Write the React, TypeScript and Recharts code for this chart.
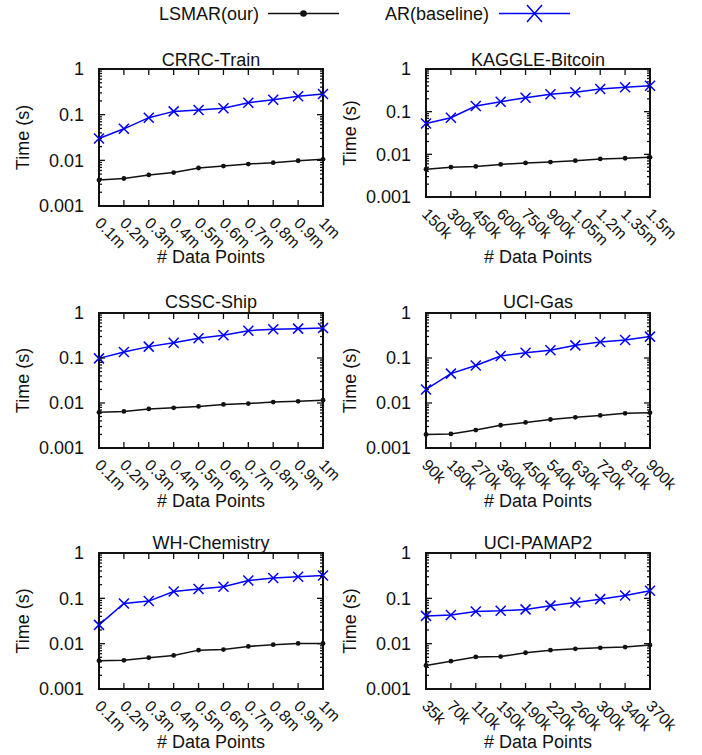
import React from "react";
import { LineChart, Line, XAxis, YAxis, Legend, ReferenceArea } from "recharts";

const FONT = '"Liberation Sans", Arial, Helvetica, sans-serif';
const BLUE = "#0000ff";
const INK = "#111";

// x tick labels
const millionLabels = ["0.1m", "0.2m", "0.3m", "0.4m", "0.5m", "0.6m", "0.7m", "0.8m", "0.9m", "1m"];
const bitcoinLabels = ["150k", "300k", "450k", "600k", "750k", "900k", "1.05m", "1.2m", "1.35m", "1.5m"];
const gasLabels = ["90k", "180k", "270k", "360k", "450k", "540k", "630k", "720k", "810k", "900k"];
const pamapLabels = ["35k", "70k", "110k", "150k", "190k", "220k", "260k", "300k", "340k", "370k"];

// time (s) per series
const crrcLsmar = [0.0037, 0.004, 0.0048, 0.0054, 0.0068, 0.0075, 0.0083, 0.0089, 0.0098, 0.0105];
const crrcAr = [0.03, 0.049, 0.086, 0.118, 0.126, 0.138, 0.183, 0.213, 0.252, 0.284];
const bitcoinLsmar = [0.0045, 0.005, 0.0052, 0.0058, 0.0063, 0.0066, 0.0071, 0.0078, 0.0081, 0.0085];
const bitcoinAr = [0.053, 0.072, 0.136, 0.171, 0.213, 0.255, 0.284, 0.34, 0.372, 0.407];
const shipLsmar = [0.0062, 0.0065, 0.0074, 0.0078, 0.0084, 0.0093, 0.0097, 0.0105, 0.0109, 0.0115];
const shipAr = [0.098, 0.136, 0.179, 0.219, 0.274, 0.319, 0.405, 0.434, 0.449, 0.464];
const gasLsmar = [0.002, 0.00205, 0.0025, 0.0032, 0.0037, 0.0043, 0.0048, 0.0053, 0.0059, 0.0061];
const gasAr = [0.02, 0.045, 0.068, 0.111, 0.131, 0.148, 0.191, 0.227, 0.251, 0.299];
const chemLsmar = [0.0042, 0.0043, 0.0049, 0.0055, 0.0072, 0.0074, 0.0087, 0.0095, 0.0101, 0.0101];
const chemAr = [0.026, 0.077, 0.087, 0.142, 0.16, 0.18, 0.248, 0.281, 0.3, 0.32];
const pamapLsmar = [0.0033, 0.0041, 0.0051, 0.0052, 0.0063, 0.0072, 0.0077, 0.0081, 0.0084, 0.0093];
const pamapAr = [0.041, 0.043, 0.051, 0.053, 0.057, 0.069, 0.081, 0.096, 0.116, 0.147];

// log axis ticks
const yMajorTicks = [0.001, 0.01, 0.1, 1];
const yMinorSteps = [2, 3, 4, 5, 6, 7, 8, 9];
const yTicks: number[] = [];
yMajorTicks.forEach((t, i) => {
  yTicks.push(t);
  if (i < yMajorTicks.length - 1) yMinorSteps.forEach((m) => yTicks.push(Number((t * m).toPrecision(6))));
});
const isMajor = (v: number) => yMajorTicks.includes(v);

const Y_AXIS_W = 95;
const PLOT_W = 224;
const M_TOP = 22;
const M_RIGHT = 30;
const X_AXIS_H = 72;

type Panel = {
  title: string;
  labels: string[];
  lsmar: number[];
  ar: number[];
  left: number;
  top: number;
  h: number;
  titleDy: number;
  xLabelDy: number;
};

const panels: Panel[] = [
  { title: "CRRC-Train", labels: millionLabels, lsmar: crrcLsmar, ar: crrcAr, left: 99, top: 69, h: 137, titleDy: -3, xLabelDy: 57 },
  { title: "KAGGLE-Bitcoin", labels: bitcoinLabels, lsmar: bitcoinLsmar, ar: bitcoinAr, left: 426, top: 69, h: 128, titleDy: -3, xLabelDy: 65.5 },
  { title: "CSSC-Ship", labels: millionLabels, lsmar: shipLsmar, ar: shipAr, left: 99, top: 313, h: 135, titleDy: -5, xLabelDy: 58.5 },
  { title: "UCI-Gas", labels: gasLabels, lsmar: gasLsmar, ar: gasAr, left: 426, top: 313, h: 135, titleDy: -5, xLabelDy: 58.5 },
  { title: "WH-Chemistry", labels: millionLabels, lsmar: chemLsmar, ar: chemAr, left: 99, top: 553, h: 136, titleDy: -4, xLabelDy: 59 },
  { title: "UCI-PAMAP2", labels: pamapLabels, lsmar: pamapLsmar, ar: pamapAr, left: 426, top: 553, h: 136, titleDy: -4, xLabelDy: 59 },
];

// left ticks, mirrored on the right border (gnuplot style)
const LeftTick = (props: any) => {
  const { x, y, payload, col } = props;
  const major = isMajor(payload.value);
  const len = major ? 6 : 3;
  return (
    <g>
      <line x1={x} x2={x + len} y1={y} y2={y} stroke={col} strokeWidth={1.3} />
      <line x1={x + PLOT_W} x2={x + PLOT_W - len} y1={y} y2={y} stroke={col} strokeWidth={1.3} />
      {major && (
        <text x={x - 15} y={y} dy="0.36em" textAnchor="end" fontSize={18} fontFamily={FONT} fill={col}>
          {String(payload.value)}
        </text>
      )}
    </g>
  );
};

// bottom ticks, mirrored on the top border
const BottomTick = (props: any) => {
  const { x, y, payload, plotH, col } = props;
  const tx = x - 5;
  const ty = y + 18;
  return (
    <g>
      <line x1={x} x2={x} y1={y} y2={y - 6} stroke={col} strokeWidth={1.3} />
      <line x1={x} x2={x} y1={y - plotH} y2={y - plotH + 6} stroke={col} strokeWidth={1.3} />
      <text x={tx} y={ty} transform={`rotate(45, ${tx}, ${ty})`} fontSize={16} fontFamily={FONT} fill={col}>
        {payload.value}
      </text>
    </g>
  );
};

const renderDot = (p: any) => <circle key={`d${p.index}`} cx={p.cx} cy={p.cy} r={2.4} fill={INK} />;

const renderCross = (p: any) => (
  <path
    key={`x${p.index}`}
    d={`M${p.cx - 5},${p.cy - 5}L${p.cx + 5},${p.cy + 5}M${p.cx - 5},${p.cy + 5}L${p.cx + 5},${p.cy - 5}`}
    stroke={BLUE}
    strokeWidth={1.5}
    fill="none"
  />
);

const renderLegend = () => (
  <svg width={702} height={32} style={{ display: "block" }}>
    <text x={159} y={19.5} fontSize={18} fontFamily={FONT} fill={INK}>LSMAR(our)</text>
    <line x1={268} x2={339} y1={13.5} y2={13.5} stroke={INK} strokeWidth={1.5} />
    <circle cx={303.5} cy={13.5} r={3.3} fill={INK} />
    <text x={385} y={19.5} fontSize={18} fontFamily={FONT} fill={INK}>AR(baseline)</text>
    <line x1={499} x2={570} y1={13.5} y2={13.5} stroke={BLUE} strokeWidth={1.5} />
    <path d="M527,5 L542,22 M527,22 L542,5" stroke={BLUE} strokeWidth={1.5} fill="none" />
  </svg>
);

const axisLine = { stroke: INK, strokeWidth: 2 };

const PanelChart = ({ p, idx }: { p: Panel; idx: number }) => {
  const data = p.labels.map((label, i) => ({ label, lsmar: p.lsmar[i], ar: p.ar[i] }));
  const cx = Y_AXIS_W + PLOT_W / 2;
  return (
    <div style={{ position: "absolute", left: p.left - Y_AXIS_W, top: p.top - M_TOP }}>
      <LineChart
        width={Y_AXIS_W + PLOT_W + M_RIGHT}
        height={M_TOP + p.h + X_AXIS_H}
        data={data}
        margin={{ top: M_TOP, right: M_RIGHT, bottom: 0, left: 0 }}
      >
        <XAxis
          dataKey="label"
          height={X_AXIS_H}
          interval={0}
          tickSize={0}
          tickMargin={0}
          tickLine={false}
          axisLine={axisLine}
          tick={<BottomTick plotH={p.h} col={INK} />}
          label={() => (
            <g>
              <text x={cx} y={M_TOP + p.h + p.xLabelDy} textAnchor="middle" fontSize={18} fontFamily={FONT} fill={INK}>
                # Data Points
              </text>
              <text x={cx} y={M_TOP + p.titleDy} textAnchor="middle" fontSize={18} fontFamily={FONT} fill={INK}>
                {p.title}
              </text>
            </g>
          )}
        />
        <YAxis
          scale="log"
          type="number"
          domain={[0.001, 1]}
          allowDataOverflow
          ticks={yTicks}
          interval={0}
          width={Y_AXIS_W}
          tickSize={0}
          tickMargin={0}
          tickLine={false}
          axisLine={axisLine}
          tick={<LeftTick col={INK} />}
          label={() => {
            const lx = Y_AXIS_W - 70;
            const ly = M_TOP + p.h / 2;
            return (
              <text x={lx} y={ly} transform={`rotate(-90, ${lx}, ${ly})`} textAnchor="middle" fontSize={18} fontFamily={FONT} fill={INK}>
                Time (s)
              </text>
            );
          }}
        />
        <ReferenceArea
          x1={p.labels[0]}
          x2={p.labels[p.labels.length - 1]}
          y1={0.001}
          y2={1}
          stroke={INK}
          strokeWidth={2}
          fill="none"
          fillOpacity={0}
          ifOverflow="visible"
        />
        <Line type="linear" dataKey="lsmar" name="LSMAR(our)" stroke={INK} strokeWidth={1.5} dot={renderDot} isAnimationActive={false} />
        <Line type="linear" dataKey="ar" name="AR(baseline)" stroke={BLUE} strokeWidth={1.5} dot={renderCross} isAnimationActive={false} />
        {idx === 0 && (
          <Legend
            layout="horizontal"
            verticalAlign="middle"
            align="center"
            content={renderLegend}
            wrapperStyle={{ position: "absolute", left: -(p.left - Y_AXIS_W), top: -(p.top - M_TOP), width: 702, height: 32 }}
          />
        )}
      </LineChart>
    </div>
  );
};

export default function App() {
  return (
    <div style={{ position: "absolute", left: 0, top: 0, width: 702, height: 755, background: "#fff" }}>
      {panels.map((p, i) => (
        <PanelChart key={p.title} p={p} idx={i} />
      ))}
    </div>
  );
}
